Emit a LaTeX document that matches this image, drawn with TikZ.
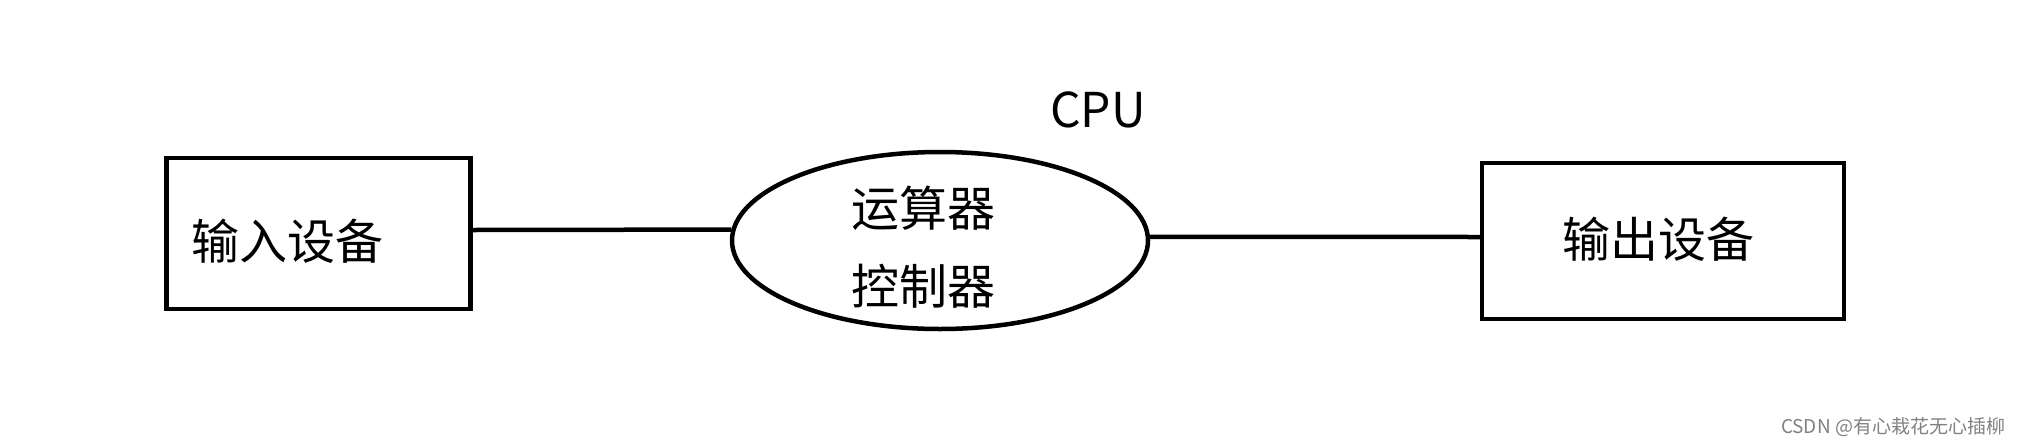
\documentclass[tikz,border=0pt]{standalone}
\usepackage{fontspec}
\newfontfamily\cjk{Noto Sans CJK SC}
\usetikzlibrary{shapes, positioning}

\begin{document}
\begin{tikzpicture}[
    x=1pt, y=-1pt,
    every node/.style={font=\cjk\fontsize{48}{56}\selectfont},
    device/.style={draw, line width=4.5pt, inner sep=0pt},
    core/.style={draw, ellipse, line width=4.5pt, inner sep=0pt,
                 minimum width=416pt, minimum height=177pt},
    wire/.style={line width=4.5pt},
    credittext/.style={font=\cjk\fontsize{19}{22}\selectfont, text=black!50}
]

    \useasboundingbox (0,0) rectangle (2024,445);

    % --- input device ---
    \node[device, minimum width=304pt, minimum height=151pt] (inbox) at (318.7,233.7) {};
    \node (intext) at (287,241) {输入设备};

    % --- cpu ---
    \node[core] (cpu) at (940,240.5) {};
    \node (alu) at (923,208) {运算器};
    \node (cu) at (923,286) {控制器};
    \node (cpuname) at (1098,110) {CPU};

    % --- output device ---
    \node[device, minimum width=362pt, minimum height=156pt] (outbox) at (1663,241) {};
    \node (outtext) at (1658,239) {输出设备};

    % links
    \draw[wire] ([yshift=3.7pt]inbox.east) -- (cpu.177.7);
    \draw[wire] (cpu.1) -- ([yshift=4pt]outbox.west);

    \node[credittext] (credit) at (1893,427) {CSDN @有心栽花无心插柳};

\end{tikzpicture}
\end{document}
